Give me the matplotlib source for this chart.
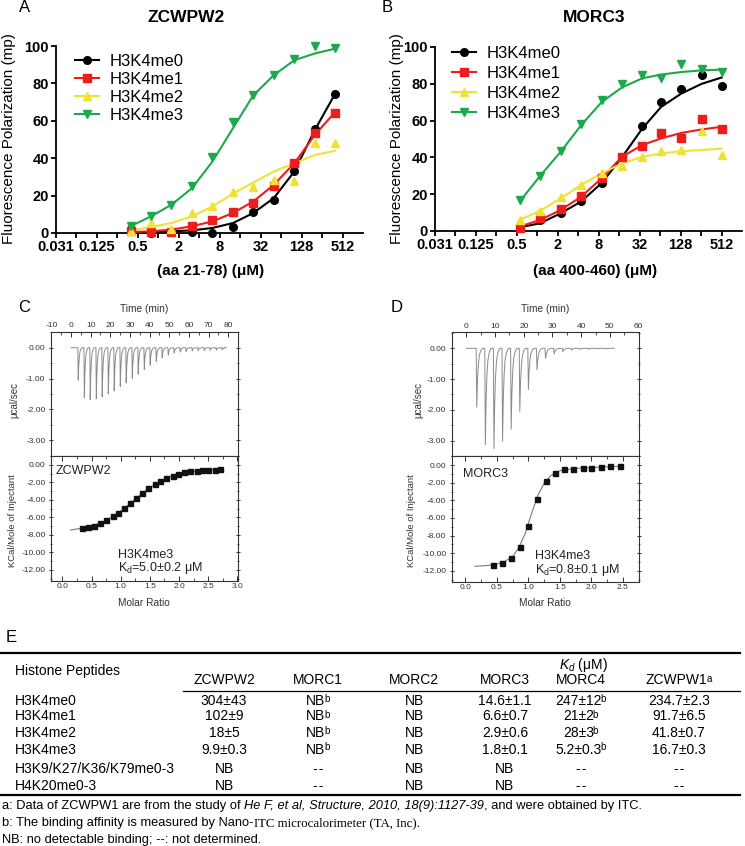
import numpy as np
import matplotlib
matplotlib.use('Agg')
import matplotlib.pyplot as plt
from matplotlib.lines import Line2D
from matplotlib.ticker import MultipleLocator, FormatStrFormatter, NullFormatter

plt.rcParams['font.family'] = ['Liberation Sans', 'DejaVu Sans']
plt.rcParams['mathtext.fontset'] = 'custom'
plt.rcParams['mathtext.rm'] = 'Liberation Sans'
plt.rcParams['mathtext.it'] = 'Liberation Sans:italic'
plt.rcParams['mathtext.bf'] = 'Liberation Sans:bold'
plt.rcParams['axes.unicode_minus'] = False

# ---------------- A / B : fluorescence polarization ----------------
peptides = ['H3K4me0', 'H3K4me1', 'H3K4me2', 'H3K4me3']
fp_colors = ['black', '#ee1c1c', '#efe232', '#1ca94b']
fp_markers = ['o', 's', '^', 'v']
fp_ticklabels = ['0.031', '0.125', '0.5', '2', '8', '32', '128', '512']

# ZCWPW2 (uM)
zc_conc = [0.39, 0.78, 1.56, 3.13, 6.25, 12.5, 25, 50, 100, 200, 400]
zc_me0 = [2, 0, 0.5, 0.5, 0, 3, 11, 17.4, 33, 55.4, 74.4]
zc_me1 = [1, 0.5, 0.5, 4, 6.7, 11, 16.2, 25.4, 37.6, 53.6, 64]
zc_me2 = [1, 5.3, 2, 10.7, 14.7, 21.8, 24.5, 28.4, 28, 48, 48.3]
zc_me3 = [3.6, 9.2, 15, 25.4, 40.8, 59.5, 74, 84.4, 93.3, 100, 99]
zc_fit0 = [0.4, 0.5, 0.9, 1.4, 2.7, 5.3, 10.7, 18.7, 32.9, 55, 74.6]
zc_fit1 = [0.5, 0.9, 1.8, 3.6, 6.2, 10.7, 16.9, 25.8, 37.3, 52.4, 64.8]
zc_fit2 = [1.4, 3.2, 5.3, 8.9, 14.2, 21.0, 27.0, 32.9, 37.3, 41.7, 44]
zc_fit3 = [3.6, 8.9, 15.1, 24, 38.2, 56, 73.7, 84.4, 92.4, 96, 98.6]

# MORC3 (uM)
mo_conc = [0.55, 1.1, 2.2, 4.4, 8.8, 17.5, 35, 66, 131, 262, 512]
mo_me0 = [2.4, 6, 9.6, 16.3, 26.2, 40.3, 57.1, 70.2, 77.4, 84.6, 78.8]
mo_me1 = [1.8, 6.9, 11.9, 19.2, 29, 40.3, 46.3, 53.5, 50.6, 61.1, 55.2]
mo_me2 = [6, 11, 18.3, 25, 31.3, 35.3, 40.3, 43.4, 44, 54.2, 41.2]
mo_me3 = [16.8, 30, 43.4, 58.4, 71, 80.1, 84.6, 83.4, 90.6, 87.9, 86.4]
mo_fit0 = [2, 4.2, 9.6, 16, 26, 40, 55.7, 67.4, 74.7, 80, 83.4]
mo_fit1 = [2.4, 6, 11.4, 18.6, 28.6, 40.3, 46.7, 50.3, 53.3, 55.2, 56.6]
mo_fit2 = [6, 11, 17.7, 25, 31.3, 36.7, 40.3, 42.1, 43.4, 44, 44.8]
mo_fit3 = [16, 30, 43, 57.5, 70, 78, 83, 85, 86.4, 87.3, 87.7]

# ---------------- C / D : ITC ----------------
zc_inj_t = [3.5, 6.6, 9.6, 12.7, 15.7, 18.8, 21.8, 24.9, 27.9, 31.0, 34.0, 37.1, 40.1,
            43.2, 46.2, 49.3, 52.3, 55.4, 58.4, 61.5, 64.5, 67.6, 70.6, 73.7, 76.7]
zc_inj_peak = [-1.05, -1.61, -1.68, -1.65, -1.59, -1.5, -1.4, -1.26, -1.14, -1.0, -0.86,
               -0.71, -0.57, -0.44, -0.32, -0.24, -0.17, -0.14, -0.12, -0.1, -0.09,
               -0.09, -0.08, -0.08, -0.06]
zc_ratio = [0.34, 0.44, 0.55, 0.65, 0.75, 0.86, 0.96, 1.06, 1.16, 1.27, 1.37, 1.47,
            1.58, 1.68, 1.78, 1.89, 1.99, 2.09, 2.19, 2.30, 2.40, 2.50, 2.61, 2.71]
zc_heat = [-7.2, -7.15, -6.95, -6.7, -6.35, -5.8, -5.45, -4.95, -4.35, -3.8, -3.25, -2.7,
           -2.2, -1.8, -1.5, -1.27, -1.05, -0.85, -0.73, -0.65, -0.6, -0.57, -0.57, -0.47]
zc_fit_x = [0.14, 0.3, 0.5, 0.7, 0.9, 1.1, 1.3, 1.5, 1.7, 1.9, 2.1, 2.3, 2.5, 2.72]
zc_fit_y = [-7.45, -7.28, -7.02, -6.55, -5.75, -4.75, -3.62, -2.58, -1.78, -1.22,
            -0.88, -0.68, -0.57, -0.5]

mo_inj_t = [3.4, 6.4, 9.4, 12.4, 15.4, 18.4, 21.4, 24.4, 27.4, 30.4, 33.4, 36.4, 39.4,
            42.4, 45.4, 48.4]
mo_inj_peak = [-1.91, -3.13, -3.26, -3.02, -2.63, -2.05, -1.34, -0.70, -0.33, -0.18,
               -0.11, -0.06, -0.04, -0.03, -0.02, -0.02]
mo_ratio = [0.44, 0.58, 0.72, 0.86, 1.0, 1.13, 1.28, 1.42, 1.57, 1.71, 1.86, 2.0, 2.15,
            2.30, 2.45]
mo_heat = [-11.4, -11.1, -10.55, -9.25, -6.9, -3.8, -1.8, -0.87, -0.48, -0.38, -0.3,
           -0.26, -0.2, -0.14, -0.08]
mo_fit_x = [0.15, 0.4, 0.6, 0.75, 0.85, 0.95, 1.05, 1.15, 1.25, 1.35, 1.5, 1.75, 2.0,
            2.3, 2.5]
mo_fit_y = [-11.5, -11.38, -11.05, -10.4, -9.35, -7.75, -5.5, -3.45, -2.05, -1.2, -0.62,
            -0.36, -0.26, -0.16, -0.1]

# ---------------- E : table ----------------
ND = '-\u200a-'
tab_cols = ['ZCWPW2', 'MORC1', 'MORC2', 'MORC3', 'MORC4', 'ZCWPW1']
tab_col_notes = ['', '', '', '', '', 'a']
tab_rows = ['H3K4me0', 'H3K4me1', 'H3K4me2', 'H3K4me3', 'H3K9/K27/K36/K79me0-3',
            'H4K20me0-3']
kd_zcwpw2 = ['304±43', '102±9', '18±5', '9.9±0.3', 'NB', 'NB']
kd_morc1 = ['NB', 'NB', 'NB', 'NB', ND, ND]
kd_morc2 = ['NB', 'NB', 'NB', 'NB', 'NB', 'NB']
kd_morc3 = ['14.6±1.1', '6.6±0.7', '2.9±0.6', '1.8±0.1', 'NB', 'NB']
kd_morc4 = ['247±12', '21±2', '28±3', '5.2±0.3', ND, ND]
kd_zcwpw1 = ['234.7±2.3', '91.7±6.5', '41.8±0.7', '16.7±0.3', ND, ND]
# footnote marks per cell (b = Nano-ITC)
notes_none = ['', '', '', '', '', '']
notes_nano = ['b', 'b', 'b', 'b', '', '']

W, H = 745, 846
fig = plt.figure(figsize=(W / 100, H / 100), dpi=100)


def box(l, t, r, b):
    return fig.add_axes([l / W, 1 - b / H, (r - l) / W, (b - t) / H])


def fp_panel(ax, conc, points, fits):
    ax.set_xscale('log', base=2)
    for ys, fit, col, mk in zip(points, fits, fp_colors, fp_markers):
        ax.plot(conc, fit, color=col, lw=1.5, zorder=3, clip_on=False)
        ax.plot(conc, ys, ls='none', marker=mk, ms=5.5, color=col, zorder=4,
                clip_on=False)
    ax.set_xlim(2 ** -5, 2 ** 10)
    ax.set_ylim(0, 100)
    ax.set_xticks(2.0 ** np.arange(-5, 10, 2))
    ax.set_xticklabels(fp_ticklabels, fontweight='bold')
    ax.set_xticks(2.0 ** np.arange(-4, 10, 2), minor=True)
    ax.xaxis.set_minor_formatter(NullFormatter())
    ax.set_yticks(range(0, 101, 20))
    ax.set_yticklabels([str(v) for v in range(0, 101, 20)], fontweight='bold')
    for s in ['top', 'right']:
        ax.spines[s].set_visible(False)
    for s in ['left', 'bottom']:
        ax.spines[s].set_linewidth(1.3)
    ax.tick_params(which='both', direction='out', width=1.3, length=3.5,
                   labelsize=10.5, pad=1.5)
    return [Line2D([], [], color=c, marker=m, ms=5.5, lw=1.5)
            for c, m in zip(fp_colors, fp_markers)]


axA = box(56, 46, 363, 233)
hA = fp_panel(axA, zc_conc, [zc_me0, zc_me1, zc_me2, zc_me3],
              [zc_fit0, zc_fit1, zc_fit2, zc_fit3])
axA.legend(hA, peptides, loc='upper left', bbox_to_anchor=(75 / W, 1 - 54 / H),
           bbox_transform=fig.transFigure, frameon=False, fontsize=12,
           handlelength=1.45, handletextpad=0.65, labelspacing=0.17, borderpad=0,
           borderaxespad=0)

axB = box(435, 47, 742, 231)
hB = fp_panel(axB, mo_conc, [mo_me0, mo_me1, mo_me2, mo_me3],
              [mo_fit0, mo_fit1, mo_fit2, mo_fit3])
axB.legend(hB, peptides, loc='upper left', bbox_to_anchor=(452 / W, 1 - 46 / H),
           bbox_transform=fig.transFigure, frameon=False, fontsize=12,
           handlelength=1.45, handletextpad=0.65, labelspacing=0.3, borderpad=0,
           borderaxespad=0)

# injection peak profile (relative time, fraction of peak)
spike_t = [0, 0.2, 0.45, 0.75, 1.1, 1.6, 2.2]
spike_f = [0, 1, 0.55, 0.28, 0.12, 0.04, 0]


def itc_panel(top, bot, t_inj, peaks, t_end, ratio, heat, fx, fy, tlim, rlim):
    tx, ty = [0.0], [0.0]
    for t, p in zip(t_inj, peaks):
        tx += [t + s for s in spike_t]
        ty += [p * f for f in spike_f]
    tx.append(t_end)
    ty.append(0.0)
    top.plot(tx, ty, color='#8a8a8a', lw=0.7)
    top.set_xlim(*tlim)
    top.set_ylim(-3.5, 0.52)
    top.xaxis.set_major_locator(MultipleLocator(10))
    top.xaxis.set_minor_locator(MultipleLocator(5))
    top.yaxis.set_major_locator(MultipleLocator(1))
    top.yaxis.set_minor_locator(MultipleLocator(0.5))
    top.yaxis.set_major_formatter(FormatStrFormatter('%.2f'))
    top.tick_params(axis='x', which='both', bottom=False, top=True, labelbottom=False,
                    labeltop=True, direction='in')
    top.tick_params(axis='y', which='both', left=True, right=True, direction='inout')

    bot.plot(fx, fy, color='#7a7a7a', lw=0.8)
    bot.plot(ratio, heat, ls='none', marker='s', ms=3.6, color='#111111')
    bot.set_xlim(*rlim)
    bot.set_ylim(-13.25, 1.05)
    bot.xaxis.set_major_locator(MultipleLocator(0.5))
    bot.xaxis.set_minor_locator(MultipleLocator(0.25))
    bot.xaxis.set_major_formatter(FormatStrFormatter('%.1f'))
    bot.yaxis.set_major_locator(MultipleLocator(2))
    bot.yaxis.set_minor_locator(MultipleLocator(1))
    bot.yaxis.set_major_formatter(FormatStrFormatter('%.2f'))
    bot.tick_params(axis='x', which='both', top=True, bottom=True, direction='in')
    bot.tick_params(axis='y', which='both', left=True, right=True, direction='inout')
    for a in (top, bot):
        for s in a.spines.values():
            s.set_linewidth(0.8)
            s.set_color('#333333')
        a.tick_params(which='major', length=3.5, width=0.7, labelsize=6,
                      colors='#333333', pad=2)
        a.tick_params(which='minor', length=2, width=0.6, colors='#333333')


axCt = box(50.7, 331.7, 237.7, 455.7)
axCb = box(50.7, 455.7, 237.7, 580.7)
itc_panel(axCt, axCb, zc_inj_t, zc_inj_peak, 78.5, zc_ratio, zc_heat, zc_fit_x,
          zc_fit_y, (-10.3, 84.8), (-0.2, 3.005))

axDt = box(451.5, 332.3, 638.7, 456)
axDb = box(451.5, 456, 638.7, 581.7)
itc_panel(axDt, axDb, mo_inj_t, mo_inj_peak, 51.5, mo_ratio, mo_heat, mo_fit_x,
          mo_fit_y, (-5.2, 60.05), (-0.22, 2.75))

# overlay in pixel coordinates for all free text and the table
ov = fig.add_axes([0, 0, 1, 1])
ov.set_xlim(0, W)
ov.set_ylim(H, 0)
ov.axis('off')

for lab, x, y in [('A', 25, 8), ('B', 387, 8), ('C', 24, 307), ('D', 397, 307),
                  ('E', 11, 638)]:
    ov.text(x, y, lab, fontsize=12, ha='center', va='center')

ov.text(186, 17, 'ZCWPW2', fontsize=12.5, fontweight='bold', ha='center', va='center')
ov.text(594, 17, 'MORC3', fontsize=12.5, fontweight='bold', ha='center', va='center')
ov.text(211, 271, '(aa 21-78) (μM)', fontsize=11, fontweight='bold', ha='center',
        va='center')
ov.text(595, 271, '(aa 400-460) (μM)', fontsize=11, fontweight='bold', ha='center',
        va='center')
for x in (9, 397):
    ov.text(x, 139, 'Fluorescence Polarization (mp)', fontsize=11, rotation=90,
            ha='center', va='center')

itc_grey = '#333333'
for cx, ux, kx in [(144, 14, 13), (545, 418, 411)]:
    ov.text(cx, 309, 'Time (min)', fontsize=7.3, ha='center', va='center',
            color=itc_grey)
    ov.text(cx, 603, 'Molar Ratio', fontsize=7.3, ha='center', va='center',
            color=itc_grey)
    ov.text(ux, 400, 'μcal/sec', fontsize=7, rotation=90, ha='center', va='center',
            color=itc_grey)
    ov.text(kx, 521, 'KCal/Mole of Injectant', fontsize=6.8, rotation=90, ha='center',
            va='center', color=itc_grey)
for x, y, s in [(56, 471, 'ZCWPW2'), (463, 474, 'MORC3'),
                (118, 555, 'H3K4me3'), (535, 556, 'H3K4me3')]:
    ov.text(x, y, s, fontsize=9, ha='left', va='center', color='#222222')
ov.text(118, 568.5, 'K$_\\mathrm{d}$=5.0$\\pm$0.2 μM', fontsize=9, ha='left',
        va='center', color='#222222')
ov.text(535, 569.5, 'K$_\\mathrm{d}$=0.8$\\pm$0.1 μM', fontsize=9, ha='left',
        va='center', color='#222222')


def cell(x, y, s, note):
    t = ov.text(x - (2.5 if note else 0), y, s, fontsize=10, ha='center', va='center')
    if note:
        ov.annotate(note, xy=(1, 1), xycoords=t, xytext=(-0.8, 0),
                    textcoords='offset points', fontsize=7, ha='left', va='top')


# table
col_x = [224, 318, 414, 505, 581, 679]
row_y = [701, 716.5, 733, 749.5, 769, 785.5]
ov.plot([0, 740], [652.7, 652.7], color='black', lw=1.6)
ov.plot([183, 740], [690.7, 690.7], color='black', lw=0.9)
ov.plot([0, 740], [795, 795], color='black', lw=1.6)
ov.text(15, 671.5, 'Histone Peptides', fontsize=10, ha='left', va='center')
ov.text(583, 665, '$K_d$ (μM)', fontsize=10, ha='center', va='center')
for x, c, n in zip(col_x, tab_cols, tab_col_notes):
    cell(x, 680.5, c, n)
for y, r in zip(row_y, tab_rows):
    ov.text(15, y, r, fontsize=10, ha='left', va='center')
for x, col, notes in zip(col_x,
                         [kd_zcwpw2, kd_morc1, kd_morc2, kd_morc3, kd_morc4, kd_zcwpw1],
                         [notes_none, notes_nano, notes_none, notes_none, notes_nano,
                          notes_none]):
    for y, v, n in zip(row_y, col, notes):
        cell(x, y, v, n)

fs = 9.3
t1 = ov.text(2, 806, 'a: Data of ZCWPW1 are from the study of ', fontsize=fs,
             ha='left', va='center')
t2 = ov.annotate('He F, et al, Structure, 2010, 18(9):1127-39', xy=(1, 0),
                 xycoords=t1, fontsize=fs, style='italic', ha='left', va='bottom')
ov.annotate(', and were obtained by ITC.', xy=(1, 0), xycoords=t2, fontsize=fs,
            ha='left', va='bottom')
t4 = ov.text(2, 823, 'b: The binding affinity is measured by Nano-', fontsize=fs,
             ha='left', va='center')
ov.annotate('ITC microcalorimeter (TA, Inc).', xy=(1, 0), xycoords=t4, fontsize=fs,
            family='Liberation Serif', ha='left', va='bottom')
ov.text(2, 839.5, 'NB: no detectable binding; --: not determined.', fontsize=fs,
        ha='left', va='center')

fig.savefig('out.png', dpi=100)
